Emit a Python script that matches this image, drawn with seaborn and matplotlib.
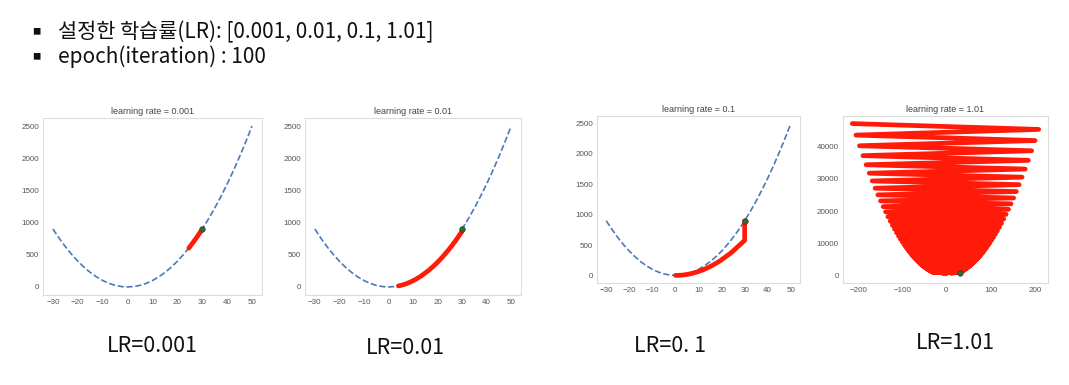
import numpy as np
import pandas as pd
import matplotlib
matplotlib.use('Agg')
import matplotlib.pyplot as plt
import seaborn as sns

## values
# loss curve y = w^2, sampled every 2.5
curve_w = [-30, -27.5, -25, -22.5, -20, -17.5, -15, -12.5, -10, -7.5, -5, -2.5, 0,
           2.5, 5, 7.5, 10, 12.5, 15, 17.5, 20, 22.5, 25, 27.5, 30,
           32.5, 35, 37.5, 40, 42.5, 45, 47.5, 50]
curve_loss = [900, 756.25, 625, 506.25, 400, 306.25, 225, 156.25, 100, 56.25, 25, 6.25, 0,
              6.25, 25, 56.25, 100, 156.25, 225, 306.25, 400, 506.25, 625, 756.25, 900,
              1056.25, 1225, 1406.25, 1600, 1806.25, 2025, 2256.25, 2500]

learning_rates = [0.001, 0.01, 0.1, 1.01]
start_w, start_loss = 30, 900

# descent paths (weight, loss)
path_0001_w = [30, 30, 27.1, 24.6]
path_0001_loss = [900, 896, 734, 603]

path_001_w = [30, 30, 27.1, 24.5, 22.2, 20.0, 18.1, 16.4, 13.4, 10.9, 8.9, 7.3, 6.0, 4.9, 4.06]
path_001_loss = [900, 864, 705, 576, 473, 384, 315, 258, 172, 114, 76, 51, 35, 23, 16]

path_01_w = [30, 30, 24, 19.2, 15.36, 12.29, 9.83, 7.86, 6.29, 5.03, 4.03, 3.22,
             2.58, 2.06, 1.65, 1.32, 1.06, 0.84, 0.5, 0.1, 0]
path_01_loss = [900, 576, 368.6, 235.9, 151, 96.6, 61.8, 39.6, 25.3, 16.2, 10.4, 6.6,
                4.2, 2.7, 1.7, 1.1, 0.7, 0.45, 0.16, 0.006, 0]

# |w| for lr=1.01, steps 0..100 (sign flips every step)
path_101_mag = [30.0, 30.6, 31.2, 31.8, 32.5, 33.1, 33.8, 34.5, 35.2, 35.9,
                36.6, 37.3, 38.0, 38.8, 39.6, 40.4, 41.2, 42.0, 42.8, 43.7,
                44.6, 45.5, 46.4, 47.3, 48.3, 49.2, 50.2, 51.2, 52.2, 53.3,
                54.3, 55.4, 56.5, 57.7, 58.8, 60.0, 61.2, 62.4, 63.7, 64.9,
                66.2, 67.6, 68.9, 70.3, 71.7, 73.1, 74.6, 76.1, 77.6, 79.2,
                80.7, 82.4, 84.0, 85.7, 87.4, 89.2, 90.9, 92.8, 94.6, 96.5,
                98.4, 100.4, 102.4, 104.5, 106.5, 108.7, 110.8, 113.1, 115.3, 117.6,
                120.0, 122.4, 124.8, 127.3, 129.9, 132.5, 135.1, 137.8, 140.6, 143.4,
                146.3, 149.2, 152.2, 155.2, 158.3, 161.5, 164.7, 168.0, 171.4, 174.8,
                178.3, 181.9, 185.5, 189.2, 193.0, 196.9, 200.8, 204.8, 208.9, 213.1,
                217.3]
path_101_w = [30] + [m * (-1) ** k for k, m in enumerate(path_101_mag[:-1])]
path_101_loss = [900] + [m ** 2 for m in path_101_mag[1:]]

paths = [(path_0001_w, path_0001_loss), (path_001_w, path_001_loss),
         (path_01_w, path_01_loss), (path_101_w, path_101_loss)]
bottom_labels = ['LR=0.001', 'LR=0.01', 'LR=0. 1', 'LR=1.01']

# tick labels per panel
small_xticks = [-30, -20, -10, 0, 10, 20, 30, 40, 50]
small_yticks = [0, 500, 1000, 1500, 2000, 2500]
big_xticks = [-200, -100, 0, 100, 200]
big_yticks = [0, 10000, 20000, 30000, 40000]
ticks = [(small_xticks, small_yticks)] * 3 + [(big_xticks, big_yticks)]

sns.set_style('white')
fam = ['Noto Sans CJK KR', 'DejaVu Sans']
plt.rcParams['font.family'] = fam
tick_fam = ['Liberation Sans', 'DejaVu Sans']

W, H = 1069, 385
fig = plt.figure(figsize=(W / 100, H / 100), dpi=100)

# axes boxes in pixels: left, top, right, bottom
boxes = [(43, 118, 262, 295), (305, 118, 521, 295), (597, 116, 800, 283), (843, 116, 1048, 283)]
label_pos = [(152, 346), (405, 348), (670, 346), (955, 343)]

curve_df = pd.DataFrame({'w': curve_w, 'loss': curve_loss})

for i, (lr, (pw, pl)) in enumerate(zip(learning_rates, paths)):
    l, t, r, b = boxes[i]
    ax = fig.add_axes([l / W, 1 - b / H, (r - l) / W, (b - t) / H])
    sns.lineplot(data=curve_df, x='w', y='loss', ax=ax, color='#4a7ab8',
                 linestyle='--', linewidth=1.2, sort=False, estimator=None)
    sns.lineplot(x=pw, y=pl, ax=ax, color='#ff1a0a', linewidth=3.4,
                 sort=False, estimator=None)
    sns.scatterplot(x=[start_w], y=[start_loss], ax=ax, color='#2e6b2e',
                    s=16, edgecolor='#333', linewidth=0.4, zorder=5)
    ax.set_xticks(ticks[i][0])
    ax.set_yticks(ticks[i][1])
    ax.set_title(f'learning rate = {lr}', fontsize=6.5, color='#444', pad=3, family=tick_fam)
    ax.set_xlabel('')
    ax.set_ylabel('')
    ax.tick_params(labelsize=5.8, colors='#555', length=0, pad=3)
    for lab in ax.get_xticklabels() + ax.get_yticklabels():
        lab.set_family(tick_fam)
    for s in ax.spines.values():
        s.set_color('#dddddd')
        s.set_linewidth(0.8)
    x, y = label_pos[i]
    fig.text(x / W, 1 - y / H, bottom_labels[i], ha='center', va='center',
             fontsize=15.5, color='#111', family=fam)

# header bullets
for yy, txt in [(32, '설정한 학습률(LR): [0.001, 0.01, 0.1, 1.01]'), (57, 'epoch(iteration) : 100')]:
    fig.text(36 / W, 1 - yy / H, '■', ha='center', va='center', fontsize=6, color='#111', family=fam)
    fig.text(58 / W, 1 - yy / H, txt, ha='left', va='center',
             fontsize=15, color='#111', family=fam)

fig.savefig('out.png', dpi=100)
